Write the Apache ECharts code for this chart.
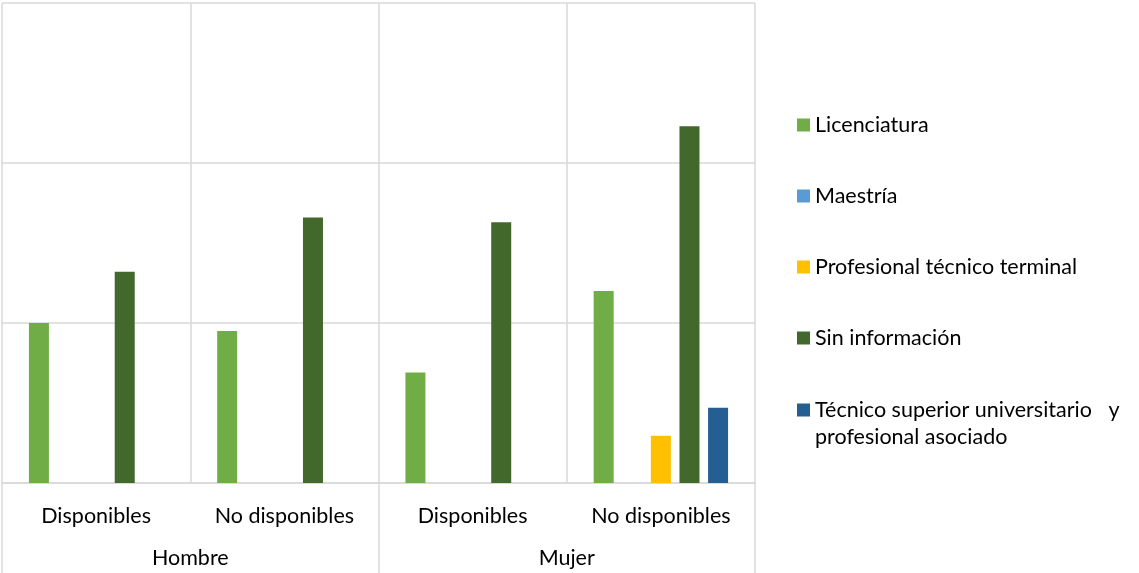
<!DOCTYPE html>
<html>
<head>
<meta charset="utf-8">
<script src="https://cdn.jsdelivr.net/npm/echarts@6/dist/echarts.min.js"></script>
<style>
  html, body { margin: 0; padding: 0; background: #fff; }
  #chart { width: 1139px; height: 573px; }
</style>
</head>
<body>
<div id="chart"></div>
<script>
// Categorías (dos niveles) y series
const categorias = ['Disponibles', 'No disponibles', 'Disponibles', 'No disponibles'];
const grupos = ['Hombre', 'Mujer'];

const licenciatura = [20, 19, 13.8, 24];
const maestria = [0, 0, 0, 0];
const profesionalTecnico = [0, 0, 0, 5.9];
const sinInformacion = [26.4, 33.2, 32.6, 44.6];
const tecnicoSuperior = [0, 0, 0, 9.4];

const nombreTecnico = 'Técnico superior universitario   y\nprofesional asociado';

(function() {
  const gris = '#d9d9d9';
  const fuente = 'Lato';
  const tam = 21.5;

  const serie = (name, data, color) => ({
    name: name,
    type: 'bar',
    data: data,
    barWidth: 20,
    barGap: '43%',
    itemStyle: { color: color },
    xAxisIndex: 0,
    silent: true
  });

  const legendText = {
    fontFamily: fuente,
    fontSize: tam,
    color: '#000',
    lineHeight: 27
  };

  const option = {
    animation: false,
    grid: { left: 2, right: 384, top: 3, bottom: 90 },
    legend: [
      {
        orient: 'vertical',
        left: 792,
        top: 106.5,
        icon: 'rect',
        itemWidth: 13,
        itemHeight: 13,
        itemGap: 44,
        selectedMode: false,
        data: ['Licenciatura', 'Maestría', 'Profesional técnico terminal', 'Sin información'],
        textStyle: legendText
      },
      {
        // línea vacía al inicio para que el cuadro quede junto a la primera línea
        orient: 'vertical',
        left: 792,
        top: 364.5,
        icon: 'rect',
        itemWidth: 13,
        itemHeight: 13,
        selectedMode: false,
        data: [nombreTecnico],
        formatter: (name) => ' \n' + name,
        textStyle: legendText
      }
    ],
    xAxis: [
      {
        type: 'category',
        data: categorias,
        axisLine: { lineStyle: { color: gris, width: 1.5 } },
        axisTick: { show: false },
        splitLine: { show: true, lineStyle: { color: gris, width: 1.5 } },
        axisLabel: {
          interval: 0,
          margin: 22,
          fontFamily: fuente,
          fontSize: tam,
          color: '#000'
        }
      },
      {
        type: 'category',
        data: grupos,
        position: 'bottom',
        axisLine: { show: false },
        axisTick: { show: true, length: 90, lineStyle: { color: gris, width: 1.5 } },
        axisLabel: {
          interval: 0,
          margin: 64,
          fontFamily: fuente,
          fontSize: tam,
          color: '#000'
        }
      }
    ],
    yAxis: {
      type: 'value',
      min: 0,
      max: 60,
      interval: 20,
      axisLine: { show: false },
      axisTick: { show: false },
      axisLabel: { show: false },
      splitLine: { lineStyle: { color: gris, width: 1.5 } }
    },
    series: [
      serie('Licenciatura', licenciatura, '#70ad47'),
      serie('Maestría', maestria, '#5b9bd5'),
      serie('Profesional técnico terminal', profesionalTecnico, '#ffc000'),
      serie('Sin información', sinInformacion, '#43682b'),
      serie(nombreTecnico, tecnicoSuperior, '#255e91')
    ]
  };

  const chart = echarts.init(document.getElementById('chart'));
  chart.setOption(option);
  window.addEventListener('resize', () => chart.resize());
})();
</script>
</body>
</html>
